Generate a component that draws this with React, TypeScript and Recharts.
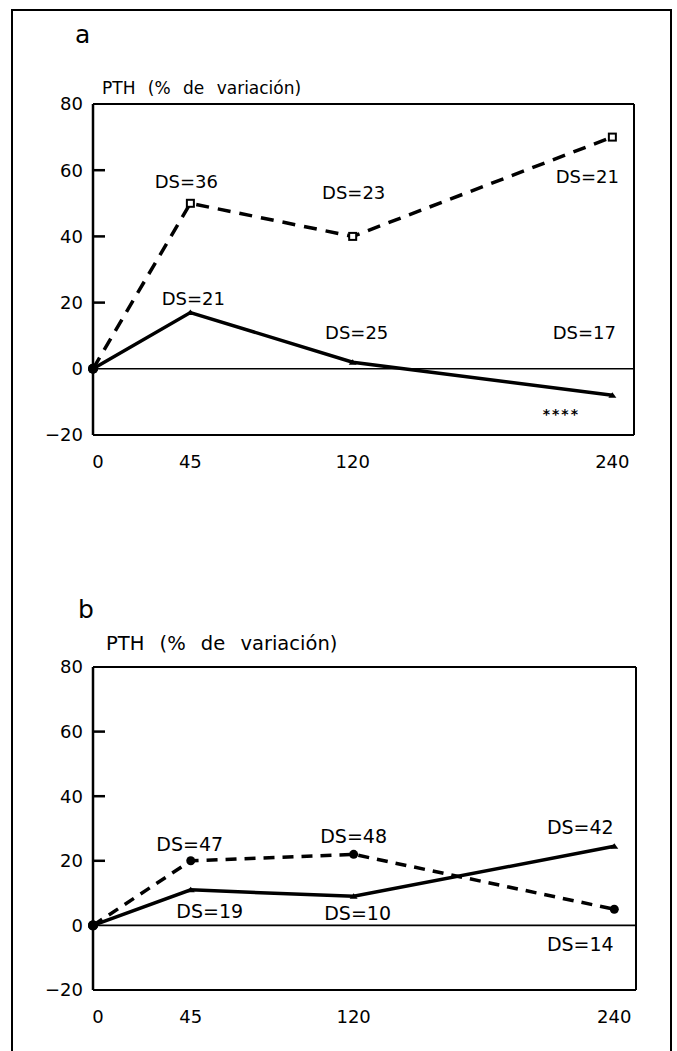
import { LineChart, Line, XAxis, YAxis, ReferenceLine } from "recharts";

// minutes after start
const times = [0, 45, 120, 240];
const xTicks = [0, 45, 120, 240];
const yTicks = [-20, 0, 20, 40, 60, 80];
const innerTicks = [20, 40, 60];

// panel a
const aDashed = [0, 50, 40, 70];
const aSolid = [0, 17, 2, -8];
const aDashedDS = ["", "DS=36", "DS=23", "DS=21"];
const aSolidDS = ["", "DS=21", "DS=25", "DS=17"];
const aSolidSig = ["", "", "", "****"];

// panel b
const bDashed = [0, 20, 22, 5];
const bSolid = [0, 11, 9, 24.5];
const bDashedDS = ["", "DS=47", "DS=48", "DS=14"];
const bSolidDS = ["", "DS=19", "DS=10", "DS=42"];

// label offsets from the point (px)
const aDashedOff = [[0, 0], [-4, -22], [1, -44], [-25, 39]];
const aSolidOff = [[0, 0], [3, -14], [4, -30], [-28, -63]];
const aSigOff = [-51, 18];
const bDashedOff = [[0, 0], [-1, -17], [0, -18], [-34, 35]];
const bSolidOff = [[0, 0], [19, 21], [4, 17], [-34, -19]];

const FONT = "'DejaVu Sans', sans-serif";

const fmt = (v: number) => (v < 0 ? "\u2212" + Math.abs(v) : String(v));

function Marker({ cx, cy, index, kind }: any) {
  if (index === 0) return <circle cx={cx} cy={cy} r={5} fill="#000" />;
  if (kind === "square")
    return <rect x={cx - 3.5} y={cy - 3.5} width={7} height={7} fill="#fff" stroke="#000" strokeWidth={2} />;
  if (kind === "circle") return <circle cx={cx} cy={cy} r={4.5} fill="#000" />;
  return <path d={`M${cx - 4},${cy + 2.5} L${cx + 4},${cy + 2.5} L${cx},${cy - 3} Z`} fill="#000" />;
}

function makeDot(kind: string, labels: string[], offs: number[][], fs: number, extra?: { labels: string[]; off: number[] }) {
  return (p: any) => {
    const i = p.index;
    return (
      <g key={`d-${kind}-${i}`}>
        <Marker cx={p.cx} cy={p.cy} index={i} kind={kind} />
        {labels[i] ? (
          <text
            x={p.cx + offs[i][0]}
            y={p.cy + offs[i][1] + fs * 0.36}
            textAnchor="middle"
            fontSize={fs}
            fontFamily={FONT}
            fill="#000"
          >
            {labels[i]}
          </text>
        ) : null}
        {extra && extra.labels[i] ? (
          <text
            x={p.cx + extra.off[0]}
            y={p.cy + extra.off[1] + 6}
            textAnchor="middle"
            fontSize={14}
            fontWeight="bold"
            letterSpacing={2}
            fontFamily={FONT}
            fill="#000"
          >
            {extra.labels[i]}
          </text>
        ) : null}
      </g>
    );
  };
}

// label plus a short tick pointing into the plot
function YTick(props: any) {
  const x = Number(props.x);
  const y = Number(props.y);
  const v = props.payload.value;
  const inner = innerTicks.includes(v);
  return (
    <g>
      {inner ? <rect x={x + 10} y={y - 1.25} width={12} height={2.5} fill="#000" /> : null}
      <text x={x} y={y} dy="0.36em" textAnchor="end" fontSize={18} fontFamily={FONT} fill="#000">
        {fmt(v)}
      </text>
    </g>
  );
}

function XTick(props: any) {
  const { x, y, payload } = props;
  const shift = payload.value === 0 ? 5 : 0;
  return (
    <text x={x + shift} y={y + 27} dy="0.36em" textAnchor="middle" fontSize={18} fontFamily={FONT} fill="#000">
      {payload.value}
    </text>
  );
}

interface PanelProps {
  top: number;
  height: number;
  margin: { top: number; right: number; bottom: number; left: number };
  dashed: number[];
  solid: number[];
  dashedDot: any;
  solidDot: any;
  dash: string;
}

function Panel({ top, height, margin, dashed, solid, dashedDot, solidDot, dash }: PanelProps) {
  const data = times.map((t, i) => ({ t, dashed: dashed[i], solid: solid[i] }));
  return (
    <div style={{ position: "absolute", left: 0, top }}>
      <LineChart width={677} height={height} data={data} margin={margin}>
        <XAxis
          dataKey="t"
          type="number"
          domain={[0, 250]}
          ticks={xTicks}
          tickLine={false}
          tickSize={0}
          tickMargin={0}
          height={40}
          axisLine={{ stroke: "#000", strokeWidth: 2 }}
          tick={<XTick />}
        />
        <YAxis
          type="number"
          domain={[-20, 80]}
          ticks={yTicks}
          tickLine={false}
          tickSize={0}
          tickMargin={10}
          width={60}
          axisLine={{ stroke: "#000", strokeWidth: 2.5 }}
          tick={<YTick />}
        />
        <ReferenceLine y={80} stroke="#000" strokeWidth={2} />
        <ReferenceLine x={250} stroke="#000" strokeWidth={2} />
        <ReferenceLine y={0} stroke="#000" strokeWidth={1.6} />
        <Line
          dataKey="dashed"
          stroke="#000"
          strokeWidth={3.5}
          strokeDasharray={dash}
          dot={dashedDot}
          activeDot={false}
          isAnimationActive={false}
        />
        <Line
          dataKey="solid"
          stroke="#000"
          strokeWidth={3.5}
          dot={solidDot}
          activeDot={false}
          isAnimationActive={false}
        />
      </LineChart>
    </div>
  );
}

export default function App() {
  return (
    <div style={{ position: "absolute", left: 0, top: 0, width: 677, height: 1051, overflow: "hidden", background: "#fff", fontFamily: FONT }}>
      <div
        style={{
          position: "absolute",
          left: 11,
          top: 9,
          width: 661,
          height: 1080,
          boxSizing: "border-box",
          border: "2px solid #000",
        }}
      />
      <div style={{ position: "absolute", left: 75, top: 22, fontSize: 25, lineHeight: 1 }}>a</div>
      <div style={{ position: "absolute", left: 102, top: 80, fontSize: 17, lineHeight: 1, wordSpacing: 7 }}>
        PTH (% de variación)
      </div>
      <Panel
        top={0}
        height={500}
        margin={{ top: 104, right: 43, bottom: 25, left: 33 }}
        dashed={aDashed}
        solid={aSolid}
        dash="13 9"
        dashedDot={makeDot("square", aDashedDS, aDashedOff, 18)}
        solidDot={makeDot("tri", aSolidDS, aSolidOff, 18, { labels: aSolidSig, off: aSigOff })}
      />

      <div style={{ position: "absolute", left: 78, top: 597, fontSize: 25, lineHeight: 1 }}>b</div>
      <div style={{ position: "absolute", left: 106, top: 634, fontSize: 19.5, lineHeight: 1, wordSpacing: 9 }}>
        PTH (% de variación)
      </div>
      <Panel
        top={540}
        height={500}
        margin={{ top: 127, right: 41, bottom: 10, left: 33 }}
        dashed={bDashed}
        solid={bSolid}
        dash="11 8"
        dashedDot={makeDot("circle", bDashedDS, bDashedOff, 19)}
        solidDot={makeDot("tri", bSolidDS, bSolidOff, 19)}
      />
    </div>
  );
}
